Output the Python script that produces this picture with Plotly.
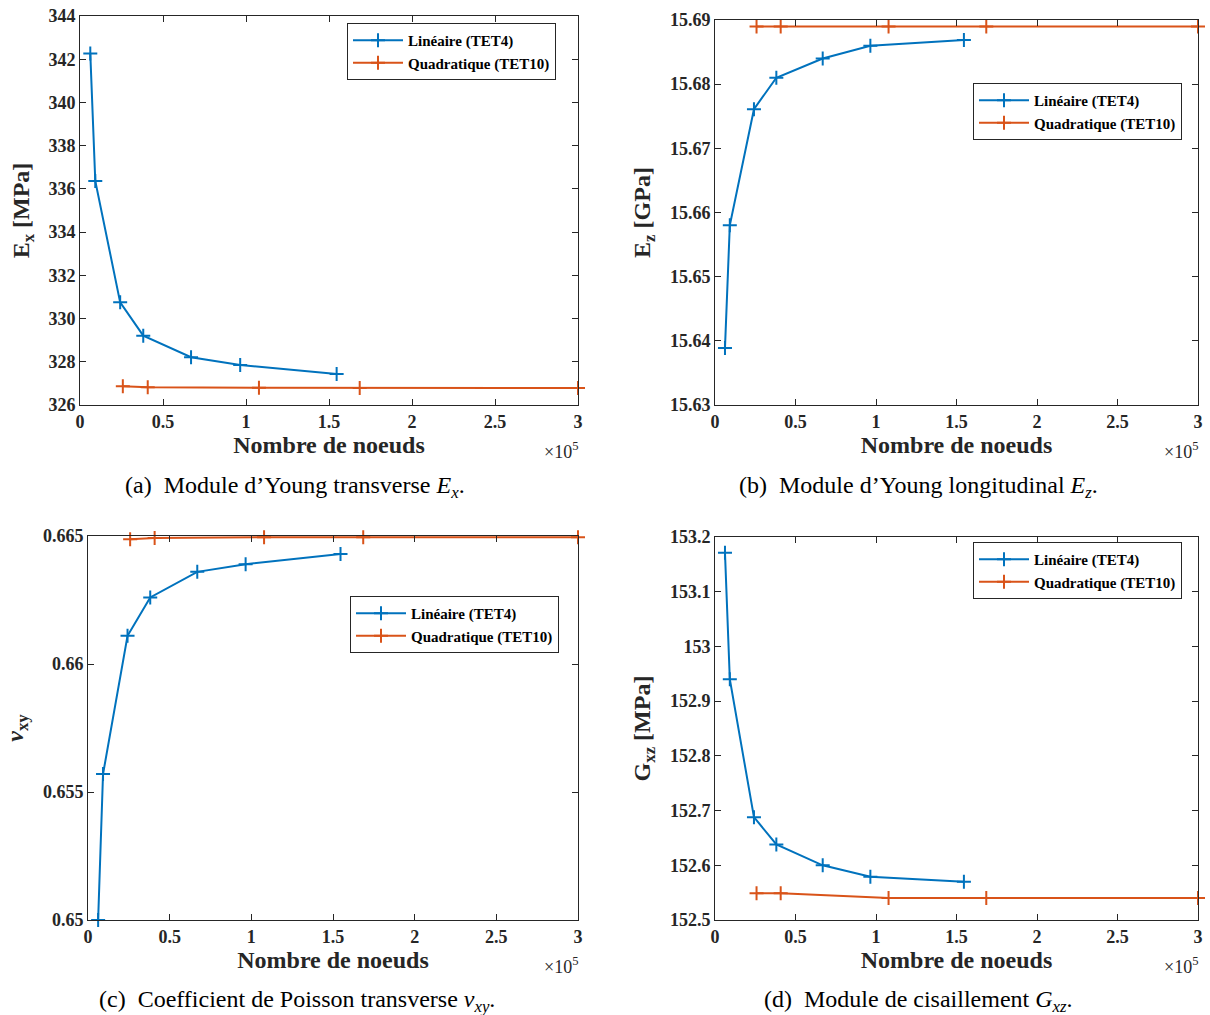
import plotly.graph_objects as go

# ---------------- data ----------------
nodes_lin = [6200, 9200, 24200, 38100, 66900, 96500, 154600]
nodes_quad = [25800, 40800, 107800, 168500, 300000]

Ex_lin = [342.27, 336.37, 330.75, 329.21, 328.21, 327.85, 327.44]
Ex_quad = [326.87, 326.82, 326.80, 326.79, 326.79]

Ez_lin = [15.6389, 15.658, 15.6761, 15.681, 15.684, 15.686, 15.6869]
Ez_quad = [15.689, 15.689, 15.689, 15.689, 15.689]

nu_lin = [0.6500, 0.6557, 0.6611, 0.6626, 0.6636, 0.6639, 0.6643]
nu_quad = [0.66487, 0.66492, 0.66495, 0.66495, 0.66495]

G_lin = [153.171, 152.94, 152.688, 152.638, 152.60, 152.579, 152.57]
G_quad = [152.549, 152.549, 152.54, 152.54, 152.54]

x_tickvals = [0, 50000, 100000, 150000, 200000, 250000, 300000]
x_ticktext = ["0", "0.5", "1", "1.5", "2", "2.5", "3"]

Ex_ticks = [326, 328, 330, 332, 334, 336, 338, 340, 342, 344]
Ez_ticks = [15.63, 15.64, 15.65, 15.66, 15.67, 15.68, 15.69]
nu_ticks = [0.65, 0.655, 0.66, 0.665]
G_ticks = [152.5, 152.6, 152.7, 152.8, 152.9, 153.0, 153.1, 153.2]
Ex_ticktext = ["326", "328", "330", "332", "334", "336", "338", "340", "342", "344"]
Ez_ticktext = ["15.63", "15.64", "15.65", "15.66", "15.67", "15.68", "15.69"]
nu_ticktext = ["0.65", "0.655", "0.66", "0.665"]
G_ticktext = ["152.5", "152.6", "152.7", "152.8", "152.9", "153", "153.1", "153.2"]

name_lin = "Linéaire (TET4)"
name_quad = "Quadratique (TET10)"

y_titles = ["E<sub>x</sub> [MPa]", "E<sub>z</sub> [GPa]",
            "<i>ν</i><sub>xy</sub>", "G<sub>xz</sub> [MPa]"]
captions = ["(a)  Module d’Young transverse <i>E<sub>x</sub></i>.",
            "(b)  Module d’Young longitudinal <i>E<sub>z</sub></i>.",
            "(c)  Coefficient de Poisson transverse <i>ν<sub>xy</sub></i>.",
            "(d)  Module de cisaillement <i>G<sub>xz</sub></i>."]
x_title = "Nombre de noeuds"

# ---------------- style ----------------
W, H = 1210, 1015
BLUE = "#0072BD"
ORANGE = "#D95319"
AX = "#262626"
FONT = "Liberation Serif"

def px_x(p):
    return p / W

def px_y(p):
    return 1 - p / H

# plot area boxes in pixels: left, right, top, bottom
boxes = [(80, 578, 16, 405), (715, 1198, 20, 405),
         (88, 578, 536, 920), (715, 1198, 537, 920)]
legend_pos = [(347, 23), (973, 83), (350, 596), (973, 542)]
caption_pos = [(295, 487), (918, 487), (297, 1001), (918, 1001)]

series = [(Ex_lin, Ex_quad), (Ez_lin, Ez_quad), (nu_lin, nu_quad), (G_lin, G_quad)]
yranges = [(326, 344), (15.63, 15.69), (0.65, 0.665), (152.5, 153.2)]
yticks = [(Ex_ticks, Ex_ticktext), (Ez_ticks, Ez_ticktext),
          (nu_ticks, nu_ticktext), (G_ticks, G_ticktext)]

fig = go.Figure()
layout = dict(width=W, height=H, margin=dict(l=0, r=0, t=0, b=0, autoexpand=False),
              paper_bgcolor="white", plot_bgcolor="white",
              font=dict(family=FONT, color="black"), showlegend=True)
annotations = []

def bold(lst):
    return ["<b>%s</b>" % s for s in lst]

for i in range(4):
    n = i + 1
    xa = "x" if n == 1 else f"x{n}"
    ya = "y" if n == 1 else f"y{n}"
    lg = "legend" if n == 1 else f"legend{n}"
    ylin, yquad = series[i]
    for xs, ys, nm, col in [(nodes_lin, ylin, name_lin, BLUE),
                            (nodes_quad, yquad, name_quad, ORANGE)]:
        fig.add_trace(go.Scatter(
            x=xs, y=ys, name="<b>%s</b>" % nm, mode="lines+markers",
            xaxis=xa, yaxis=ya, legend=lg, cliponaxis=False,
            line=dict(color=col, width=2),
            marker=dict(symbol="cross-thin", size=10,
                        line=dict(color=col, width=2), color=col)))
    l, r, t, b = boxes[i]
    xkey = "xaxis" if n == 1 else f"xaxis{n}"
    ykey = "yaxis" if n == 1 else f"yaxis{n}"
    common = dict(showline=True, linecolor=AX, linewidth=1, mirror="ticks",
                  ticks="inside", ticklen=6, tickcolor=AX, tickwidth=1,
                  showgrid=False, zeroline=False, automargin=False,
                  ticklabeloverflow="allow",
                  tickfont=dict(family=FONT, size=18, color=AX))
    layout[xkey] = dict(domain=[px_x(l), px_x(r)], anchor=ya,
                        range=[0, 300000], tickvals=x_tickvals, ticktext=bold(x_ticktext),
                        title=dict(text=f"<b>{x_title}</b>", standoff=4,
                                   font=dict(family=FONT, size=24, color=AX)),
                        **common)
    tv, tt = yticks[i]
    layout[ykey] = dict(domain=[px_y(b), px_y(t)], anchor=xa,
                        range=list(yranges[i]), tickvals=tv, ticktext=bold(tt),
                        title=dict(text=f"<b>{y_titles[i]}</b>", standoff=12,
                                   font=dict(family=FONT, size=24, color=AX)),
                        **common)
    lx, ly = legend_pos[i]
    layout[lg] = dict(x=px_x(lx), y=px_y(ly), xanchor="left", yanchor="top",
                      bgcolor="white", bordercolor=AX, borderwidth=1,
                      font=dict(family=FONT, size=15, color="black"),
                      tracegroupgap=0, itemwidth=50)
    annotations.append(dict(x=px_x(r + 2), y=px_y(b + 45), xref="paper", yref="paper",
                            xanchor="right", yanchor="middle", showarrow=False,
                            text="×10<sup>5</sup>",
                            font=dict(family=FONT, size=18, color=AX)))
    cx, cy = caption_pos[i]
    annotations.append(dict(x=px_x(cx), y=px_y(cy), xref="paper", yref="paper",
                            xanchor="center", yanchor="middle", showarrow=False,
                            text=captions[i],
                            font=dict(family=FONT, size=24, color="black")))

layout["annotations"] = annotations
fig.update_layout(**layout)
fig.write_html("out.html",
               config={"displayModeBar": False},
               post_script="document.body.style.margin='0px';")
